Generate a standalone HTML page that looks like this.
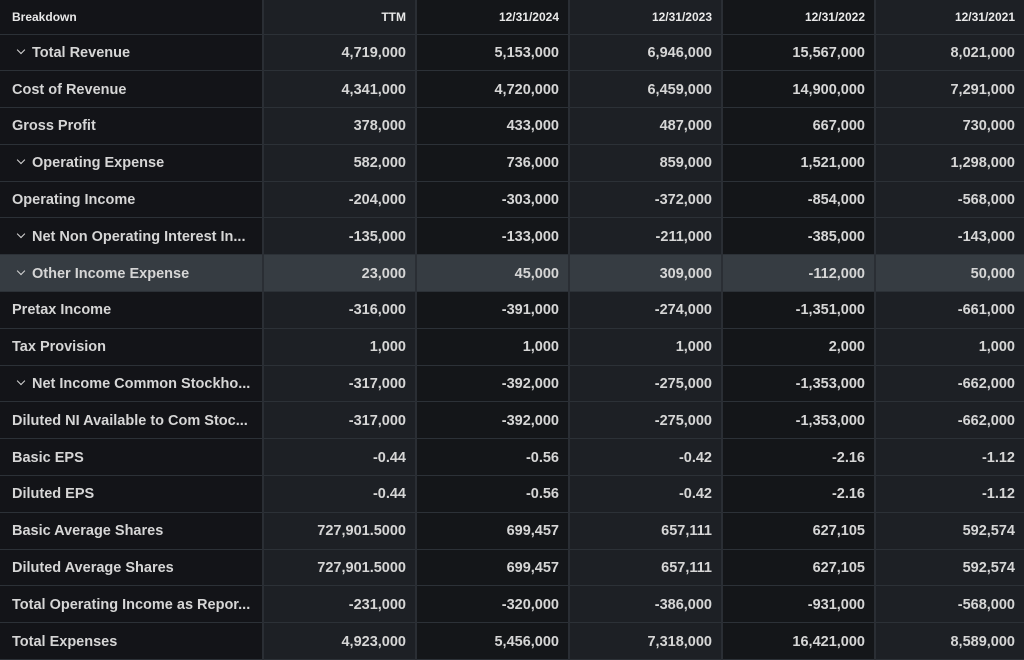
<!DOCTYPE html>
<html><head><meta charset="utf-8"><style>
body{margin:0;background:#131418;width:1024px;height:660px;overflow:hidden;font-family:"Liberation Sans",sans-serif;}
table{border-collapse:collapse;table-layout:fixed;width:1024px;}
td{height:36.8px;padding:1px 9px 0 12px;box-sizing:border-box;border-right:2px solid #2a2e34;border-bottom:1px solid #2c3137;color:#d6d6d6;font-size:14.5px;font-weight:bold;white-space:nowrap;text-align:right;}
tr td:first-child{text-align:left;background:#131418}
td:nth-child(2),td:nth-child(4),td:nth-child(6){background:#1d2025}
td:nth-child(3),td:nth-child(5){background:#141619}
td:last-child{border-right:none}
tr.h td{height:34px;font-size:12px;color:#e8e8e8}
tr.hl td{background:#363c42 !important}
.c{display:inline-block;width:5px;height:5px;border-right:1.6px solid #d6d6d6;border-bottom:1.6px solid #d6d6d6;transform:rotate(45deg);margin:0 8px 0 6px;vertical-align:4px}
</style></head><body>
<table>
<colgroup><col style="width:263px"><col style="width:153px"><col style="width:153px"><col style="width:153px"><col style="width:153px"><col style="width:149px"></colgroup>
<tr class="h"><td>Breakdown</td><td>TTM</td><td>12/31/2024</td><td>12/31/2023</td><td>12/31/2022</td><td>12/31/2021</td></tr>
<tr><td><span class="c"></span>Total Revenue</td><td>4,719,000</td><td>5,153,000</td><td>6,946,000</td><td>15,567,000</td><td>8,021,000</td></tr>
<tr><td>Cost of Revenue</td><td>4,341,000</td><td>4,720,000</td><td>6,459,000</td><td>14,900,000</td><td>7,291,000</td></tr>
<tr><td>Gross Profit</td><td>378,000</td><td>433,000</td><td>487,000</td><td>667,000</td><td>730,000</td></tr>
<tr><td><span class="c"></span>Operating Expense</td><td>582,000</td><td>736,000</td><td>859,000</td><td>1,521,000</td><td>1,298,000</td></tr>
<tr><td>Operating Income</td><td>-204,000</td><td>-303,000</td><td>-372,000</td><td>-854,000</td><td>-568,000</td></tr>
<tr><td><span class="c"></span>Net Non Operating Interest In...</td><td>-135,000</td><td>-133,000</td><td>-211,000</td><td>-385,000</td><td>-143,000</td></tr>
<tr class="hl"><td><span class="c"></span>Other Income Expense</td><td>23,000</td><td>45,000</td><td>309,000</td><td>-112,000</td><td>50,000</td></tr>
<tr><td>Pretax Income</td><td>-316,000</td><td>-391,000</td><td>-274,000</td><td>-1,351,000</td><td>-661,000</td></tr>
<tr><td>Tax Provision</td><td>1,000</td><td>1,000</td><td>1,000</td><td>2,000</td><td>1,000</td></tr>
<tr><td><span class="c"></span>Net Income Common Stockho...</td><td>-317,000</td><td>-392,000</td><td>-275,000</td><td>-1,353,000</td><td>-662,000</td></tr>
<tr><td>Diluted NI Available to Com Stoc...</td><td>-317,000</td><td>-392,000</td><td>-275,000</td><td>-1,353,000</td><td>-662,000</td></tr>
<tr><td>Basic EPS</td><td>-0.44</td><td>-0.56</td><td>-0.42</td><td>-2.16</td><td>-1.12</td></tr>
<tr><td>Diluted EPS</td><td>-0.44</td><td>-0.56</td><td>-0.42</td><td>-2.16</td><td>-1.12</td></tr>
<tr><td>Basic Average Shares</td><td>727,901.5000</td><td>699,457</td><td>657,111</td><td>627,105</td><td>592,574</td></tr>
<tr><td>Diluted Average Shares</td><td>727,901.5000</td><td>699,457</td><td>657,111</td><td>627,105</td><td>592,574</td></tr>
<tr><td>Total Operating Income as Repor...</td><td>-231,000</td><td>-320,000</td><td>-386,000</td><td>-931,000</td><td>-568,000</td></tr>
<tr><td>Total Expenses</td><td>4,923,000</td><td>5,456,000</td><td>7,318,000</td><td>16,421,000</td><td>8,589,000</td></tr>
</table>
</body></html>
